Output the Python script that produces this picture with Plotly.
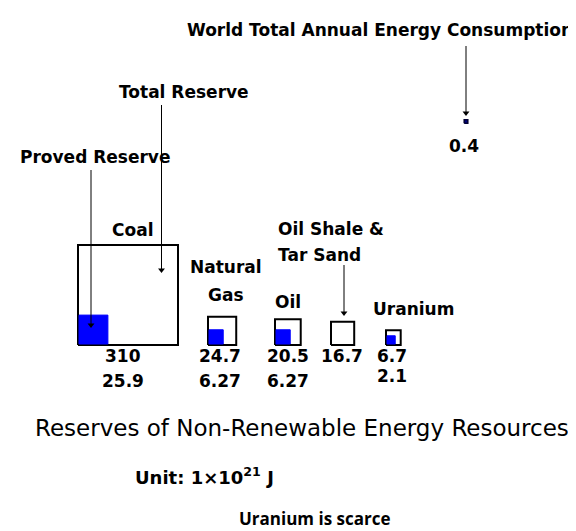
import plotly.graph_objects as go
import math

# ---- data ----
resources = ["Coal", "Natural Gas", "Oil", "Oil Shale & Tar Sand", "Uranium"]
total_reserve = [310, 24.7, 20.5, 16.7, 6.7]
proved_reserve = [25.9, 6.27, 6.27, None, 2.1]
annual_consumption = 0.4

# ---- layout constants (pixel-like coordinates) ----
W, H = 576, 531
scale = 100 / math.sqrt(310)          # px per sqrt(unit)
base_y = 337                           # common baseline of squares
left_x = [70, 200, 267, 323, 378]      # left edge of each square
cons_cx, cons_cy = 458, 113.5          # centre of consumption square

BLUE = "#0000FF"
NAVY = "#000080"


def side(v):
    return scale * math.sqrt(v)


fig = go.Figure()


def add_square(x0, y_bottom, s, fill, line_color, lw):
    fig.add_trace(go.Scatter(
        x=[x0, x0 + s, x0 + s, x0, x0],
        y=[y_bottom, y_bottom, y_bottom - s, y_bottom - s, y_bottom],
        mode="lines", fill="toself", fillcolor=fill,
        line=dict(color=line_color, width=lw),
        hoverinfo="skip", showlegend=False))


for i, name in enumerate(resources):
    add_square(left_x[i], base_y, side(total_reserve[i]), "white", "black", 2)
    if proved_reserve[i] is not None:
        add_square(left_x[i] + 1, base_y - 1, side(proved_reserve[i]), BLUE, BLUE, 1)

# consumption square
sc = side(annual_consumption)
add_square(cons_cx - sc / 2, cons_cy + sc / 2, sc, NAVY, "#000033", 1.5)


def arrow(x, y0, y1):
    # shaft
    fig.add_trace(go.Scatter(x=[x, x], y=[y0, y1 - 4], mode="lines",
                             line=dict(color="black", width=1),
                             hoverinfo="skip", showlegend=False))
    # head
    fig.add_trace(go.Scatter(x=[x], y=[y1 - 3], mode="markers",
                             marker=dict(symbol="triangle-down", size=6,
                                         color="black", line=dict(width=0)),
                             hoverinfo="skip", showlegend=False))


arrow(83, 162, 320)
arrow(153.5, 97, 265)
arrow(336, 257, 308)
arrow(cons_cx, 38, 108)

ann = []


def label(text, x, y, size=17, anchor="center", bold=True, family="DejaVu Sans",
          yanchor="middle"):
    ann.append(dict(text=f"<b>{text}</b>" if bold else text, x=x, y=y,
                    xref="x", yref="y", showarrow=False, xanchor=anchor,
                    yanchor=yanchor,
                    font=dict(family=family, size=size, color="black")))


# value labels
value_cx = [115, 212, 280, 334, 384]
for i in range(len(resources)):
    label(f"{total_reserve[i]:g}", value_cx[i], 348)
    if proved_reserve[i] is not None:
        label(f"{proved_reserve[i]:g}", value_cx[i], 373 if i < 4 else 368)

# category labels
label("Coal", 124, 222)
label("Natural", 218, 259)
label("Gas", 218, 287)
label("Oil", 280, 294)
label("Oil Shale &", 268, 221, anchor="left")
label("Tar Sand", 268, 247, anchor="left")
label("Uranium", 405, 301)

# arrow labels
label("World Total Annual Energy Consumption", 372, 22, size=17)
label(f"{annual_consumption:g}", 456, 138)
label("Total Reserve", 175.5, 84)
label("Proved Reserve", 87.5, 149)

# titles
label("Reserves of Non-Renewable Energy Resources", 294, 420, size=23, bold=False)
label("Unit: 1×10<sup>21</sup> J", 196.5, 468, size=18)
label("Uranium is scarce", 307, 510, size=17, family="Open Sans")

fig.update_layout(
    width=W, height=H, autosize=False,
    margin=dict(l=0, r=0, t=0, b=0),
    paper_bgcolor="white", plot_bgcolor="white",
    xaxis=dict(range=[0, W], visible=False, fixedrange=True),
    yaxis=dict(range=[H, 0], visible=False, fixedrange=True),
    annotations=ann,
    showlegend=False,
)

fig.write_html("out.html")
